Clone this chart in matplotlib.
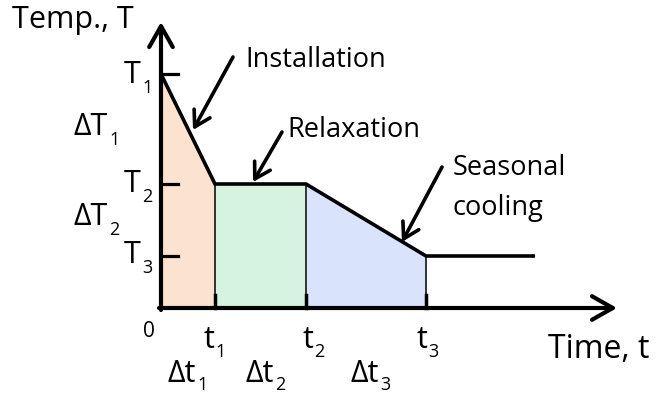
import matplotlib.pyplot as plt

# Schematic temperature history (arbitrary units)
t_pts = [0, 5.4, 14.5, 26.5, 37.4]
T_pts = [23.4, 12.4, 12.4, 5.2, 5.2]
t_marks = [5.4, 14.5, 26.5]
T_marks = [23.4, 12.4, 5.2]
t_subs = ['1', '2', '3']
T_subs = ['1', '2', '3']
dt_subs = ['1', '2', '3']
dT_subs = ['1', '2']
fills = ['#fce3cf', '#d6f2e1', '#d9e3fb']

plt.rcParams['font.family'] = ['Open Sans', 'DejaVu Sans']

fig = plt.figure(figsize=(6.6, 3.96), dpi=100)
ax = fig.add_axes([0, 0, 1, 1])
ax.set_xlim(-16.1, 49.9)
ax.set_ylim(-8.8, 30.8)
ax.axis('off')


def sub_text(x, y, main, sub, size=22, subsize=13, drop=1.0):
    # main text ends at x, subscript starts at x and sits lower
    ax.text(x, y, main, fontsize=size, ha='right', va='baseline')
    ax.text(x + 0.1, y - drop, sub, fontsize=subsize, ha='left', va='baseline')


# shaded stages
for i in range(3):
    ax.fill_between(t_pts[i:i + 2], [0, 0], T_pts[i:i + 2], color=fills[i], lw=0)

# vertical separators
for tm, Tm in zip(t_marks, [12.4, 12.4, 5.2]):
    ax.plot([tm, tm], [0, Tm], color='black', lw=1.1)
    ax.plot([tm, tm], [0, 1.3], color='black', lw=2.5)

ax.plot(t_pts, T_pts, color='black', lw=2.6, solid_capstyle='butt', solid_joinstyle='miter')

# axes with arrows
arrow = dict(arrowstyle='->, head_length=1.5, head_width=0.85', lw=3, color='black',
             shrinkA=0, shrinkB=0)
ax.annotate('', xy=(0, 28.6), xytext=(0, -0.2), arrowprops=arrow)
ax.annotate('', xy=(45.6, 0), xytext=(-0.2, 0), arrowprops=arrow)

for Tm in T_marks:
    ax.plot([0, 1.7], [Tm, Tm], color='black', lw=2.3)

ax.text(-14.9, 28.0, 'Temp., T', fontsize=22, va='baseline', ha='left')
ax.text(38.7, -5.0, 'Time, t', fontsize=23, va='baseline', ha='left')
ax.text(-1.2, -2.9, '0', fontsize=15, va='baseline', ha='center')

for x, s in zip([5.3, 15.2, 26.6], t_subs):
    sub_text(x, -4.0, 't', s, drop=0.9)
for x, s in zip([3.5, 11.3, 21.8], dt_subs):
    sub_text(x, -7.4, '\u0394t', s, drop=0.8)
for y, s in zip([22.5, 11.6, 4.5], T_subs):
    sub_text(-2.0, y, 'T', s)
for y, s in zip([17.3, 8.3], dT_subs):
    sub_text(-5.3, y, '\u0394T', s)

ann = dict(arrowstyle='->, head_length=1.1, head_width=0.65', lw=2.6, color='black',
           shrinkA=0, shrinkB=0)
ax.annotate('', xy=(3.2, 17.8), xytext=(7.2, 25.1), arrowprops=ann)
ax.annotate('', xy=(9.2, 12.6), xytext=(12.1, 17.6), arrowprops=ann)
ax.annotate('', xy=(24.1, 6.6), xytext=(28.1, 14.1), arrowprops=ann)
ax.text(8.4, 24.1, 'Installation', fontsize=19.5, va='baseline', ha='left')
ax.text(12.6, 17.1, 'Relaxation', fontsize=19.5, va='baseline', ha='left')
ax.text(29.2, 13.3, 'Seasonal', fontsize=19.5, va='baseline', ha='left')
ax.text(29.2, 9.3, 'cooling', fontsize=19.5, va='baseline', ha='left')

fig.savefig('out.png', dpi=100)
